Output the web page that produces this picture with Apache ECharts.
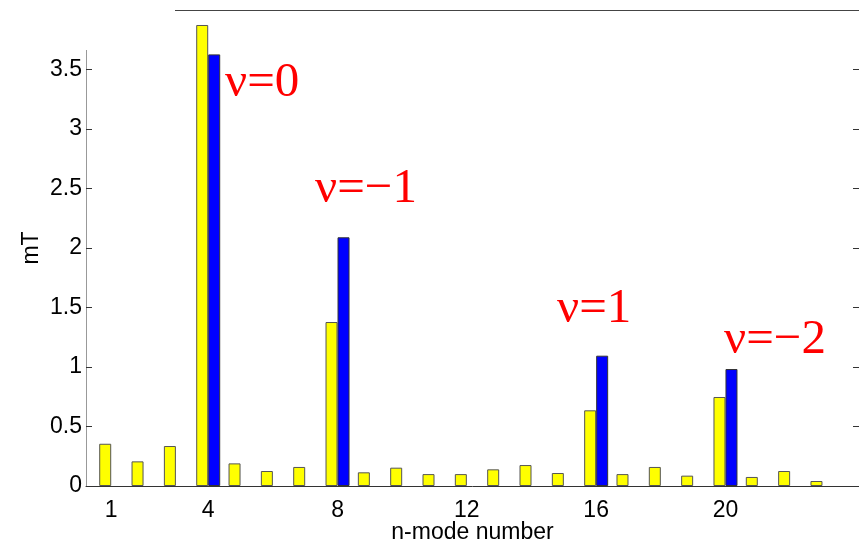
<!DOCTYPE html>
<html>
<head>
<meta charset="utf-8">
<script src="https://cdn.jsdelivr.net/npm/echarts@6/dist/echarts.min.js"></script>
<style>
  html, body { margin: 0; padding: 0; background: #fff; }
  #main { width: 859px; height: 543px; }
</style>
</head>
<body>
<div id="main"></div>
<script>
var myChart = echarts.init(document.getElementById('main'));

// n-mode numbers and amplitudes (mT)
var modes = [1, 2, 3, 4, 5, 6, 7, 8, 9, 10, 11, 12, 13, 14, 15, 16, 17, 18, 19, 20, 21, 22, 23];
var yellowVals = [0.355, 0.207, 0.336, 3.874, 0.19, 0.126, 0.16, 1.378, 0.115, 0.154, 0.10, 0.10,
  0.14, 0.176, 0.109, 0.636, 0.10, 0.16, 0.087, 0.748, 0.076, 0.126, 0.042];
var blueModes = [4, 8, 16, 20];
var blueVals = [3.627, 2.09, 1.095, 0.983];

var xTicks = [1, 4, 8, 12, 16, 20];
var yTicks = [0, 0.5, 1, 1.5, 2, 2.5, 3, 3.5];
var rightTicks = [0.5, 1, 1.5, 2, 2.5, 3, 3.5];

// labels nu=... placed next to the peaks
var notes = [
  { text: 'ν=0', x: 225, y: 83 },
  { text: 'ν=−1', x: 315, y: 189 },
  { text: 'ν=1', x: 557, y: 309 },
  { text: 'ν=−2', x: 724, y: 340 }
];

var yellowData = [];
for (var i = 0; i < modes.length; i++) {
  yellowData.push([modes[i], yellowVals[i]]);
}
var blueData = [];
for (var j = 0; j < blueModes.length; j++) {
  blueData.push([blueModes[j], blueVals[j]]);
}

var labelFont = {
  color: '#000',
  fontSize: 23,
  fontFamily: '"Liberation Sans", Arial, sans-serif'
};

var graphics = [
  // top frame line (only partly present in the original)
  { type: 'line', shape: { x1: 175, y1: 10.5, x2: 859, y2: 10.5 }, style: { stroke: '#444', lineWidth: 1 } },
  // left axis line
  { type: 'line', shape: { x1: 86.5, y1: 50, x2: 86.5, y2: 486 }, style: { stroke: '#999', lineWidth: 1 } }
];
notes.forEach(function(n) {
  graphics.push({
    type: 'text',
    x: n.x,
    y: n.y,
    style: {
      text: n.text,
      fill: '#ff0000',
      font: '49px "Liberation Serif", "Times New Roman", serif',
      align: 'left',
      verticalAlign: 'middle'
    }
  });
});

var option = {
  animation: false,
  backgroundColor: '#fff',
  grid: { left: 86, right: 0, top: 10, bottom: 57, outerBoundsMode: 'none', containLabel: false },
  xAxis: {
    type: 'value',
    min: 0.22,
    max: 24.13,
    splitLine: { show: false },
    axisTick: { show: false },
    axisLine: { onZero: false, lineStyle: { color: '#333', width: 1 } },
    axisLabel: Object.assign({ margin: 13, customValues: xTicks }, labelFont),
    name: 'n-mode number',
    nameLocation: 'middle',
    nameGap: 35,
    nameMoveOverlap: false,
    nameTextStyle: labelFont
  },
  yAxis: [
    {
      type: 'value',
      min: 0,
      max: 4,
      interval: 0.5,
      splitLine: { show: false },
      axisLine: { show: false },
      axisTick: { inside: true, length: 6, customValues: yTicks, lineStyle: { color: '#333' } },
      axisLabel: Object.assign({ margin: 4, customValues: yTicks }, labelFont),
      name: 'mT',
      nameLocation: 'middle',
      nameRotate: 90,
      nameGap: 43,
      nameMoveOverlap: false,
      nameTextStyle: Object.assign({ padding: [0, 0, 0, 0] }, labelFont)
    },
    {
      type: 'value',
      position: 'right',
      min: 0,
      max: 4,
      interval: 0.5,
      splitLine: { show: false },
      axisLine: { show: false },
      axisLabel: { show: false },
      axisTick: { inside: true, length: 6, customValues: rightTicks, lineStyle: { color: '#333' } }
    }
  ],
  series: [
    {
      type: 'bar',
      data: yellowData,
      barWidth: 12,
      barGap: '0%',
      itemStyle: { color: '#ffff00', borderColor: '#555', borderWidth: 1 }
    },
    {
      type: 'bar',
      data: blueData,
      barWidth: 12,
      barGap: '0%',
      itemStyle: { color: '#0000ff', borderColor: '#333', borderWidth: 1 }
    }
  ],
  graphic: graphics
};

myChart.setOption(option);
</script>
</body>
</html>
